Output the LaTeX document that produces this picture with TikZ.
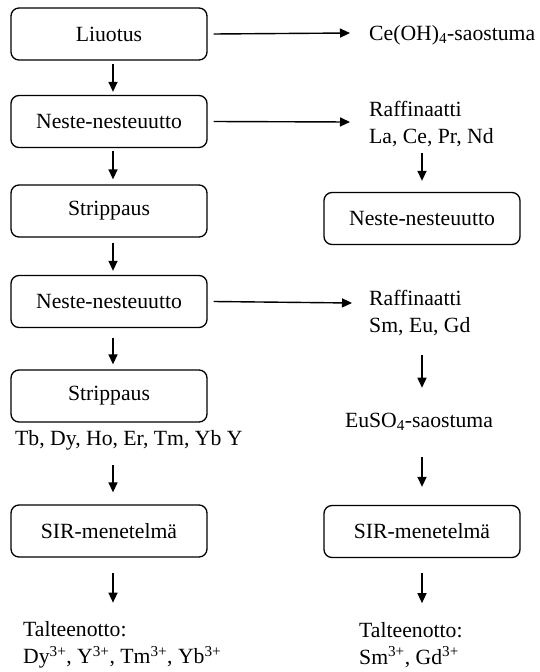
\documentclass[tikz,border=0pt]{standalone}
\usepackage{fontspec}
\setmainfont{Liberation Serif}
\usetikzlibrary{arrows.meta}
\begin{document}
\begin{tikzpicture}[x=1pt,y=1pt,
  font=\fontsize{21.7}{27}\selectfont,
  box/.style={draw, line width=1.3pt, rounded corners=8pt, minimum width=196pt, minimum height=52pt, inner sep=0pt},
  lbl/.style={anchor=west, align=left, inner sep=0pt},
  arr/.style={line width=1.4pt, -{Triangle[length=10pt,width=9pt]}}]
\useasboundingbox (0,0) rectangle (539,-672);
% left column
\node[box] (liuotus) at (109,-34) {Liuotus};
\node[box] (nn1) at (109,-121.5) {Neste-nesteuutto};
\node[box] (strip1) at (109,-211) {Strippaus};
\node[box] (nn2) at (109,-301.5) {Neste-nesteuutto};
\node[box] (strip2) at (109,-396) {Strippaus};
\node[lbl] (tb) at (15,-440) {Tb, Dy, Ho, Er, Tm, Yb Y};
\node[box] (sir1) at (109,-531) {SIR-menetelmä};
\node[lbl] (talt1) at (23,-645) {Talteenotto:\\Dy\textsuperscript{3+}, Y\textsuperscript{3+}, Tm\textsuperscript{3+}, Yb\textsuperscript{3+}};
% right column
\node[lbl] (ce) at (369,-35) {Ce(OH)\textsubscript{4}-saostuma};
\node[lbl] (raff1) at (369,-124) {Raffinaatti\\La, Ce, Pr, Nd};
\node[box] (rnn) at (422,-218.5) {Neste-nesteuutto};
\node[lbl] (raff2) at (369,-313) {Raffinaatti\\Sm, Eu, Gd};
\node (euso) at (419,-422) {EuSO\textsubscript{4}-saostuma};
\node[box] (sir2) at (422,-531.5) {SIR-menetelmä};
\node[lbl] (talt2) at (359,-645) {Talteenotto:\\Sm\textsuperscript{3+}, Gd\textsuperscript{3+}};
% left vertical arrows
\draw[arr] ([xshift=4pt,yshift=-3pt]liuotus.south) -- ([xshift=4pt,yshift=3pt]nn1.north);
\draw[arr] ([xshift=4pt,yshift=-3pt]nn1.south) -- ([xshift=4pt,yshift=5pt]strip1.north);
\draw[arr] ([xshift=4pt,yshift=-5pt]strip1.south) -- ([xshift=4pt,yshift=4pt]nn2.north);
\draw[arr] ([xshift=4pt,yshift=-10pt]nn2.south) -- ([xshift=4pt,yshift=5pt]strip2.north);
\draw[arr] (tb.south -| 113,0) ++(0,-15) -- ([xshift=4pt,yshift=12pt]sir1.north);
\draw[arr] ([xshift=4pt,yshift=-15pt]sir1.south) -- ([xshift=4pt,yshift=-45pt]sir1.south);
% horizontal arrows
\draw[arr] ([xshift=6pt]liuotus.east) -- (350,-33);
\draw[arr] ([xshift=6pt]nn1.east) -- (350,-122);
\draw[arr] ([xshift=6pt]nn2.east) -- (352,-303);
% right vertical arrows
\draw[arr] (422,-153) -- ([yshift=11pt]rnn.north);
\draw[arr] (422,-355) -- ([xshift=3pt,yshift=22pt]euso.north);
\draw[arr] ([xshift=3pt,yshift=-23pt]euso.south) -- ([yshift=18pt]sir2.north);
\draw[arr] ([yshift=-15pt]sir2.south) -- ([yshift=-45pt]sir2.south);
\end{tikzpicture}
\end{document}
